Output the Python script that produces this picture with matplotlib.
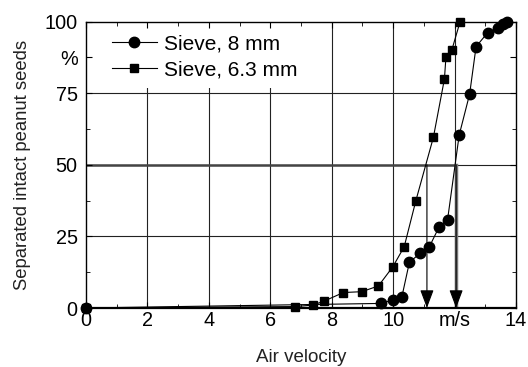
import matplotlib
matplotlib.use("Agg")
import matplotlib.pyplot as plt
from matplotlib.patches import Rectangle

plt.rcParams['font.family'] = ['Liberation Sans', 'DejaVu Sans']

# Data
x_8mm = [0, 9.62, 9.98, 10.28, 10.53, 10.88, 11.18, 11.5, 11.77, 12.15, 12.49, 12.7, 13.08, 13.43, 13.59, 13.72]
y_8mm = [0, 1.6, 2.8, 3.7, 16.0, 19.1, 21.4, 28.4, 30.7, 60.4, 74.7, 91.3, 96.2, 97.7, 99.2, 100]
x_63mm = [0, 6.81, 7.38, 7.75, 8.38, 8.98, 9.52, 9.99, 10.36, 10.74, 11.31, 11.67, 11.72, 11.91, 12.18]
y_63mm = [0, 0.5, 1.0, 2.4, 5.4, 5.7, 7.7, 14.4, 21.4, 37.5, 59.6, 80.0, 87.8, 90.1, 100]
arrow_x_63 = 11.1
arrow_x_8 = 12.05
level = 50

x_ticks = [0, 2, 4, 6, 8, 10, 12, 14]
x_labels = ['0', '2', '4', '6', '8', '10', 'm/s', '14']
y_ticks = [0, 25, 50, 75, 87.5, 100]
y_labels = ['0', '25', '50', '75', '%', '100']
grid_x = [2, 4, 6, 8, 10, 12]
grid_y = [25, 50, 75]

fig = plt.figure(figsize=(5.28, 3.67), dpi=100)
ax = fig.add_axes([86/528, 1-308/367, 430/528, 286.3/367])
ax.set_xlim(0, 14)
ax.set_ylim(0, 100)

for gx in grid_x:
    ax.axvline(gx, color='#222222', lw=0.8, zorder=0.5)
for gy in grid_y:
    ax.axhline(gy, color='#222222', lw=0.8, zorder=0.5)

# white area behind legend
ax.add_patch(Rectangle((0, 0.768), 0.51, 0.232, transform=ax.transAxes,
                       facecolor='white', edgecolor='none', zorder=1))

# 50 % level line and arrows
ax.plot([0, arrow_x_8], [level, level], color='#444444', lw=1.8, zorder=1.5)
ax.plot([arrow_x_8, arrow_x_8], [level, 0], color='#777777', lw=2.5, zorder=1.5)
for ax_x in (arrow_x_63, arrow_x_8):
    ax.annotate('', xy=(ax_x, 0), xytext=(ax_x, level),
                arrowprops=dict(arrowstyle='-|>,head_length=0.8,head_width=0.3',
                                color='black', lw=0.8, mutation_scale=14,
                                shrinkA=0, shrinkB=0), zorder=2)

ax.plot(x_8mm, y_8mm, color='black', lw=0.8, marker='o', markersize=7.5,
        label='Sieve, 8 mm', zorder=3, clip_on=False)
ax.plot(x_63mm, y_63mm, color='black', lw=0.8, marker='s', markersize=6.3,
        label='Sieve, 6.3 mm', zorder=3, clip_on=False)

leg = ax.legend(loc='upper left', bbox_to_anchor=(0.04, 0.985), frameon=False,
                fontsize=15, handlelength=2.2, handletextpad=0.3,
                labelspacing=0.35, borderaxespad=0)

ax.set_xticks(x_ticks)
ax.set_xticklabels(x_labels)
ax.set_yticks(y_ticks)
ax.set_yticklabels(y_labels)
ax.set_xticks([1, 3, 5, 7, 9, 11, 13], minor=True)
ax.set_yticks([12.5, 37.5, 62.5], minor=True)
ax.tick_params(axis='both', which='both', direction='in', top=True, right=True,
               labelsize=14.3, colors='black')
ax.tick_params(axis='both', which='major', length=4)
ax.tick_params(axis='both', which='minor', length=3)
ax.tick_params(axis='x', pad=2)
ax.tick_params(axis='y', pad=6)

for s in ax.spines.values():
    s.set_linewidth(1.0)
ax.spines['bottom'].set_linewidth(1.6)

ax.set_xlabel('Air velocity', fontsize=13.5, labelpad=14, color='#222222')
ax.set_ylabel('Separated intact peanut seeds', fontsize=13.3, labelpad=10, color='#222222')

fig.savefig('out.png', dpi=100)
